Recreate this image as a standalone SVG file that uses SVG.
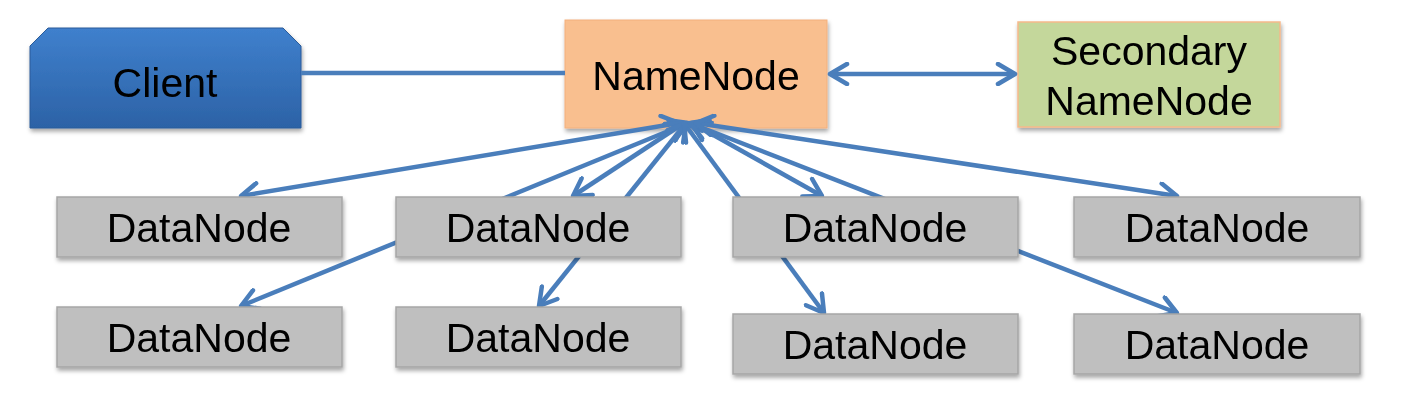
<svg xmlns="http://www.w3.org/2000/svg" width="1413" height="417" viewBox="0 0 1413 417">
  <style>
    .lbl { font-family: "Liberation Sans", Arial, sans-serif; font-size: 41px; fill: #000; text-anchor: middle; }
    .dn rect { fill: #bfbfbf; stroke: #a6a6a6; stroke-width: 1.5; }
    .conn { stroke: #4a7ebb; stroke-width: 4.5; fill: none; }
    .arr { marker-start: url(#ah); marker-end: url(#ah); }
  </style>
  <defs>
    <linearGradient id="clientGrad" x1="0" y1="0" x2="0" y2="1">
      <stop offset="0" stop-color="#3f80cd"/>
      <stop offset="1" stop-color="#2c62a6"/>
    </linearGradient>
    <filter id="sh" x="-10%" y="-10%" width="125%" height="140%">
      <feDropShadow dx="1" dy="3" stdDeviation="2" flood-color="#000" flood-opacity="0.35"/>
    </filter>
    <marker id="ah" markerUnits="userSpaceOnUse" viewBox="0 0 24 24" markerWidth="24" markerHeight="24" refX="21" refY="12" orient="auto-start-reverse">
      <path d="M4,2 L21,12 L4,22" fill="none" stroke="#4a7ebb" stroke-width="4.5" stroke-linecap="round" stroke-linejoin="round"/>
    </marker>
  </defs>

  <g id="client" filter="url(#sh)">
    <polygon points="30,46 48,28 283,28 301,46 301,128 30,128" fill="url(#clientGrad)" stroke="#2a5b9a" stroke-width="1"/>
    <text class="lbl" x="165" y="97">Client</text>
  </g>

  <g id="namenode" filter="url(#sh)">
    <rect x="565" y="20" width="262" height="108" fill="#f9bf8f" stroke="#f3b07d" stroke-width="1"/>
    <text class="lbl" x="696" y="90">NameNode</text>
  </g>

  <g id="secondary-namenode" filter="url(#sh)">
    <rect x="1018" y="22" width="262" height="105" fill="#c4d79b" stroke="#f6b98a" stroke-width="1.5"/>
    <text class="lbl" x="1149" y="65">Secondary</text>
    <text class="lbl" x="1149" y="115">NameNode</text>
  </g>

  <g id="connectors">
    <line class="conn" x1="301" y1="73" x2="565" y2="73"/>
    <line class="conn arr" x1="830" y1="74" x2="1015" y2="74"/>
    <line class="conn arr" x1="679" y1="123" x2="241" y2="196"/>
    <line class="conn arr" x1="688" y1="123" x2="241" y2="306"/>
    <line class="conn arr" x1="684" y1="123" x2="573" y2="196"/>
    <line class="conn arr" x1="686" y1="123" x2="539" y2="306"/>
    <line class="conn arr" x1="684" y1="123" x2="824" y2="313"/>
    <line class="conn arr" x1="692" y1="123" x2="822" y2="196"/>
    <line class="conn arr" x1="690" y1="123" x2="1177" y2="313"/>
    <line class="conn arr" x1="696" y1="123" x2="1177" y2="196"/>
  </g>

  <g id="datanode1" class="dn" filter="url(#sh)">
    <rect x="57" y="197" width="285" height="60"/>
    <text class="lbl" x="199" y="242">DataNode</text>
  </g>
  <g id="datanode2" class="dn" filter="url(#sh)">
    <rect x="396" y="197" width="285" height="60"/>
    <text class="lbl" x="538" y="242">DataNode</text>
  </g>
  <g id="datanode3" class="dn" filter="url(#sh)">
    <rect x="733" y="197" width="285" height="60"/>
    <text class="lbl" x="875" y="242">DataNode</text>
  </g>
  <g id="datanode4" class="dn" filter="url(#sh)">
    <rect x="1074" y="197" width="286" height="60"/>
    <text class="lbl" x="1217" y="242">DataNode</text>
  </g>
  <g id="datanode5" class="dn" filter="url(#sh)">
    <rect x="57" y="307" width="285" height="60"/>
    <text class="lbl" x="199" y="352">DataNode</text>
  </g>
  <g id="datanode6" class="dn" filter="url(#sh)">
    <rect x="396" y="307" width="285" height="60"/>
    <text class="lbl" x="538" y="352">DataNode</text>
  </g>
  <g id="datanode7" class="dn" filter="url(#sh)">
    <rect x="733" y="314" width="285" height="60"/>
    <text class="lbl" x="875" y="359">DataNode</text>
  </g>
  <g id="datanode8" class="dn" filter="url(#sh)">
    <rect x="1074" y="314" width="286" height="60"/>
    <text class="lbl" x="1217" y="359">DataNode</text>
  </g>
</svg>
